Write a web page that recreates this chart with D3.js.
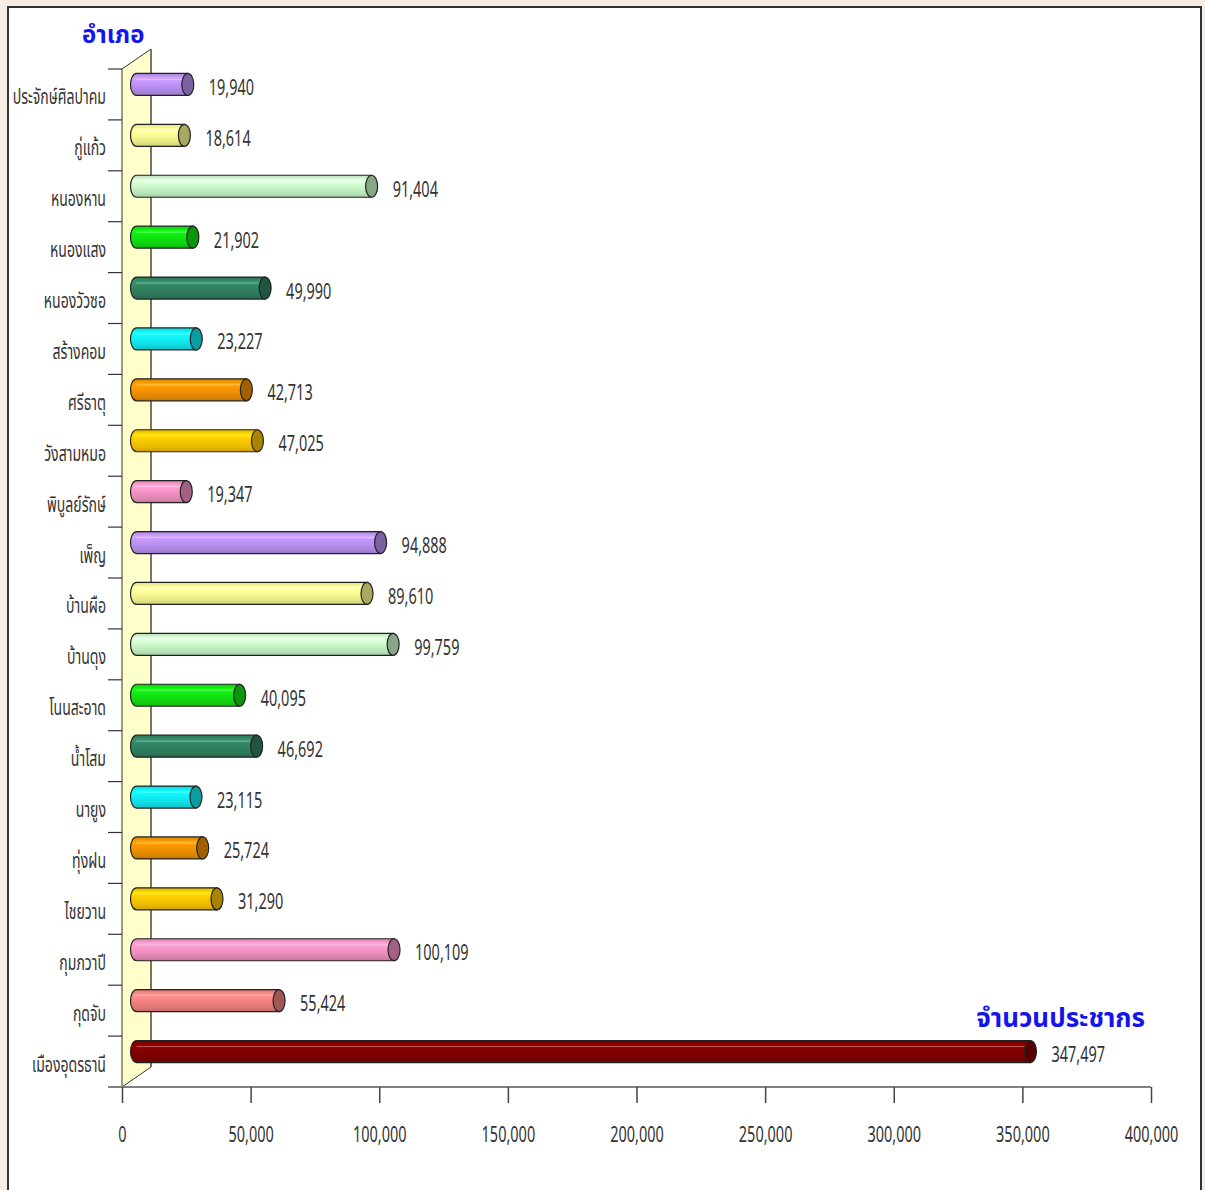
<!DOCTYPE html>
<html>
<head>
<meta charset="utf-8">
<script src="https://cdn.jsdelivr.net/npm/d3@7"></script>
<style>
  html, body { margin: 0; padding: 0; background: #f8ede4; }
  svg { display: block; }
  .lbl { font-family: "Noto Sans", "Noto Sans Thai", sans-serif; fill: #333; }
  .ttl { font-family: "Noto Sans Thai", "Noto Sans", "DejaVu Sans", sans-serif; font-weight: bold; fill: #1414f0; }
</style>
</head>
<body>
<script>
// ---- data (bottom to top order as in the chart) ----
const districts = ["เมืองอุดรธานี","กุดจับ","กุมภวาปี","ไชยวาน","ทุ่งฝน","นายูง","น้ำโสม","โนนสะอาด","บ้านดุง","บ้านผือ","เพ็ญ","พิบูลย์รักษ์","วังสามหมอ","ศรีธาตุ","สร้างคอม","หนองวัวซอ","หนองแสง","หนองหาน","กู่แก้ว","ประจักษ์ศิลปาคม"];
const population = [347497,55424,100109,31290,25724,23115,46692,40095,99759,89610,94888,19347,47025,42713,23227,49990,21902,91404,18614,19940];
const xTicks = [0,50000,100000,150000,200000,250000,300000,350000,400000];
const barColors = ["#800000","#f08080","#f090c0","#f8c400","#f09000","#10e8f0","#308060","#10e010","#c8f8c8","#f8f890","#b890f0","#f090c0","#f8c400","#f09000","#10e8f0","#308060","#10e010","#c8f8c8","#f8f890","#b890f0"];
const yTitle = "อำเภอ";
const xTitle = "จำนวนประชากร";

const W = 1205, H = 1190;
const svg = d3.select("body").append("svg").attr("width", W).attr("height", H);
const defs = svg.append("defs");
const fmt = d3.format(",");
const SX = 0.69;

// chart frame
svg.append("rect").attr("x", 8).attr("y", 7).attr("width", 1193).attr("height", 1200)
  .attr("fill", "#fff").attr("stroke", "#333").attr("stroke-width", 2);

const x0 = 122, x1 = 1151, yTop = 69, yBot = 1087;
const depthX = 29, depthY = -20;
const x = d3.scaleLinear().domain([0, 400000]).range([x0, x1]);
const y = d3.scaleBand().domain(districts.slice().reverse()).range([yTop, yBot]);

// back wall
svg.append("path")
  .attr("d", `M${x0},${yTop} L${x0+depthX},${yTop+depthY} L${x0+depthX},${yBot+depthY} L${x0},${yBot} Z`)
  .attr("fill", "#ffffcc").attr("stroke", "#333").attr("stroke-width", 1);
svg.append("line").attr("x1", x0+depthX).attr("x2", x0+depthX).attr("y1", yTop+depthY).attr("y2", yBot+depthY)
  .attr("stroke", "#7a7560").attr("stroke-width", 2);

// category axis: boundary ticks + labels
const bounds = districts.map((d) => y(d)).concat([yBot]);
svg.append("g").selectAll("line").data(bounds).join("line")
  .attr("x1", x0 - 14).attr("x2", x0).attr("y1", d => d).attr("y2", d => d)
  .attr("stroke", "#333").attr("stroke-width", 1.2);
svg.append("g").selectAll("text").data(districts).join("text")
  .attr("class", "lbl")
  .attr("transform", d => `translate(106,${y(d) + y.bandwidth() / 2 + 10}) scale(0.67,1)`)
  .attr("text-anchor", "end").attr("font-size", 21)
  .text(d => d);

// value axis
const xAxis = svg.append("g").attr("transform", `translate(0,${yBot})`)
  .call(d3.axisBottom(x).tickValues(xTicks).tickSize(16).tickFormat(fmt));
xAxis.select(".domain").attr("stroke", "#808080").attr("stroke-width", 2).attr("d", `M${x0-14},0H${x1}`);
xAxis.selectAll(".tick line").attr("stroke", "#444").attr("stroke-width", 1.5);
xAxis.selectAll(".tick text").attr("class", "lbl").attr("font-size", 21)
  .attr("y", 55).attr("dy", 0).attr("fill", "#333").attr("transform", `scale(${SX},1)`);

// bars (cylinders)
const bh = 22, rx = 6;
const bars = svg.append("g");
districts.forEach((d, i) => {
  const c = d3.color(barColors[i]);
  const id = "g" + i;
  const g = defs.append("linearGradient").attr("id", id).attr("x1", 0).attr("y1", 0).attr("x2", 0).attr("y2", 1);
  g.append("stop").attr("offset", "0%").attr("stop-color", c.darker(0.3));
  g.append("stop").attr("offset", "22%").attr("stop-color", c.brighter(0.4));
  g.append("stop").attr("offset", "40%").attr("stop-color", c.brighter(0.15));
  g.append("stop").attr("offset", "80%").attr("stop-color", c.darker(0.2));
  g.append("stop").attr("offset", "100%").attr("stop-color", c.darker(0.55));
  const cy = y(d) + y.bandwidth() / 2 + depthY / 2;
  const xs = x(0) + depthX / 2, xe = x(population[i]) + depthX / 2;
  const top = cy - bh / 2, bot = cy + bh / 2;
  bars.append("path")
    .attr("d", `M${xe},${top} L${xs},${top} A${rx},${bh/2} 0 0 0 ${xs},${bot} L${xe},${bot} Z`)
    .attr("fill", `url(#${id})`).attr("stroke", "#222").attr("stroke-width", 1.2);
  bars.append("line").attr("x1", xs).attr("x2", xe).attr("y1", top + 6).attr("y2", top + 6)
    .attr("stroke", "#fff").attr("stroke-opacity", 0.35).attr("stroke-width", 1);
  bars.append("ellipse").attr("cx", xe).attr("cy", cy).attr("rx", rx).attr("ry", bh / 2)
    .attr("fill", c.darker(1.1)).attr("stroke", "#222").attr("stroke-width", 1.2);
  bars.append("text").attr("class", "lbl")
    .attr("transform", `translate(${xe + 21},${cy + 10.5}) scale(${SX},1)`)
    .attr("font-size", 21)
    .text(fmt(population[i]));
});

// titles
svg.append("text").attr("class", "ttl").attr("x", 82).attr("y", 43).attr("font-size", 24).text(yTitle);
svg.append("text").attr("class", "ttl").attr("x", 1145).attr("y", 1027).attr("text-anchor", "end").attr("font-size", 26).text(xTitle);
</script>
</body>
</html>
